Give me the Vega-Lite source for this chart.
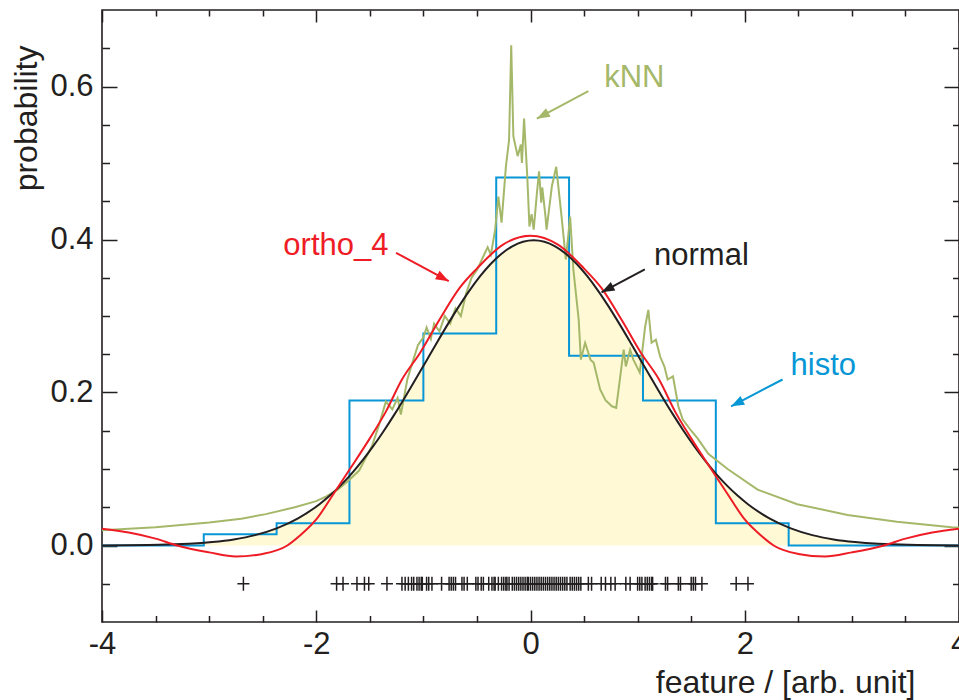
{
  "$schema": "https://vega.github.io/schema/vega-lite/v6.json",
  "width": 857,
  "height": 612,
  "autosize": {"type": "none"},
  "padding": {"left": 102, "top": 10, "right": 0, "bottom": 78},
  "background": "white",
  "config": {
    "view": {"stroke": "#231f20", "strokeWidth": 1.6},
    "font": "Liberation Sans",
    "axis": {
      "labelFont": "Liberation Sans",
      "labelFontSize": 31,
      "labelColor": "#231f20",
      "titleFont": "Liberation Sans",
      "titleFontSize": 32,
      "titleFontWeight": "normal",
      "titleColor": "#231f20",
      "tickColor": "#231f20",
      "tickWidth": 1.5,
      "domain": false,
      "grid": false,
      "labelFlush": false,
      "labelOverlap": false,
      "zindex": 1
    }
  },
  "datasets": {
    "normal": [
      {"x": -4.0, "p": 0.00012}, {"x": -3.47, "p": 0.00087}, {"x": -2.97, "p": 0.00443}, {"x": -2.77, "p": 0.00792},
      {"x": -2.57, "p": 0.01358}, {"x": -2.37, "p": 0.02239}, {"x": -2.17, "p": 0.03547}, {"x": -1.97, "p": 0.05399},
      {"x": -1.87, "p": 0.06562}, {"x": -1.77, "p": 0.07895}, {"x": -1.67, "p": 0.09405}, {"x": -1.57, "p": 0.11092},
      {"x": -1.47, "p": 0.12952}, {"x": -1.37, "p": 0.14973}, {"x": -1.27, "p": 0.17137}, {"x": -1.17, "p": 0.19419},
      {"x": -1.07, "p": 0.21785}, {"x": -0.97, "p": 0.24197}, {"x": -0.87, "p": 0.26609}, {"x": -0.77, "p": 0.28969},
      {"x": -0.67, "p": 0.31225}, {"x": -0.57, "p": 0.33322}, {"x": -0.47, "p": 0.35207}, {"x": -0.37, "p": 0.36827},
      {"x": -0.27, "p": 0.38139}, {"x": -0.17, "p": 0.39104}, {"x": -0.07, "p": 0.39695}, {"x": 0.03, "p": 0.39894},
      {"x": 0.13, "p": 0.39695}, {"x": 0.23, "p": 0.39104}, {"x": 0.33, "p": 0.38139}, {"x": 0.43, "p": 0.36827},
      {"x": 0.53, "p": 0.35207}, {"x": 0.63, "p": 0.33322}, {"x": 0.73, "p": 0.31225}, {"x": 0.83, "p": 0.28969},
      {"x": 0.93, "p": 0.26609}, {"x": 1.03, "p": 0.24197}, {"x": 1.13, "p": 0.21785}, {"x": 1.23, "p": 0.19419},
      {"x": 1.33, "p": 0.17137}, {"x": 1.43, "p": 0.14973}, {"x": 1.53, "p": 0.12952}, {"x": 1.63, "p": 0.11092},
      {"x": 1.73, "p": 0.09405}, {"x": 1.83, "p": 0.07895}, {"x": 1.93, "p": 0.06562}, {"x": 2.03, "p": 0.05399},
      {"x": 2.23, "p": 0.03547}, {"x": 2.43, "p": 0.02239}, {"x": 2.63, "p": 0.01358}, {"x": 2.83, "p": 0.00792},
      {"x": 3.03, "p": 0.00443}, {"x": 3.53, "p": 0.00087}, {"x": 4.0, "p": 0.00015}
    ],
    "ortho": [
      {"x": -4.0, "p": 0.022}, {"x": -3.75, "p": 0.017}, {"x": -3.5, "p": 0.009}, {"x": -3.3, "p": 0.0},
      {"x": -3.0, "p": -0.009}, {"x": -2.75, "p": -0.0145}, {"x": -2.5, "p": -0.011}, {"x": -2.27, "p": 0.0},
      {"x": -2.16, "p": 0.012}, {"x": -2.0, "p": 0.034}, {"x": -1.85, "p": 0.065}, {"x": -1.69, "p": 0.099},
      {"x": -1.5, "p": 0.14}, {"x": -1.35, "p": 0.175}, {"x": -1.2, "p": 0.217}, {"x": -1.03, "p": 0.252},
      {"x": -0.85, "p": 0.295}, {"x": -0.66, "p": 0.337}, {"x": -0.5, "p": 0.362}, {"x": -0.26, "p": 0.393},
      {"x": 0.0, "p": 0.405},
      {"x": 0.26, "p": 0.393}, {"x": 0.5, "p": 0.362}, {"x": 0.66, "p": 0.337}, {"x": 0.85, "p": 0.295},
      {"x": 1.03, "p": 0.252}, {"x": 1.2, "p": 0.217}, {"x": 1.35, "p": 0.175}, {"x": 1.5, "p": 0.14},
      {"x": 1.69, "p": 0.099}, {"x": 1.85, "p": 0.065}, {"x": 2.0, "p": 0.034}, {"x": 2.16, "p": 0.012},
      {"x": 2.27, "p": 0.0}, {"x": 2.5, "p": -0.011}, {"x": 2.75, "p": -0.0145}, {"x": 3.0, "p": -0.009},
      {"x": 3.3, "p": 0.0}, {"x": 3.5, "p": 0.009}, {"x": 3.75, "p": 0.017}, {"x": 4.0, "p": 0.022}
    ],
    "hist": [
      {"x": -4.0, "p": 0.0}, {"x": -3.05, "p": 0.0146}, {"x": -2.37, "p": 0.0292}, {"x": -1.69, "p": 0.1895},
      {"x": -1.0, "p": 0.277}, {"x": -0.32, "p": 0.481}, {"x": 0.36, "p": 0.248}, {"x": 1.05, "p": 0.1895},
      {"x": 1.73, "p": 0.0292}, {"x": 2.41, "p": 0.0}, {"x": 4.0, "p": 0.0}
    ],
    "knn": [
      {"x": -4.0, "p": 0.020}, {"x": -3.5, "p": 0.024}, {"x": -3.0, "p": 0.030}, {"x": -2.7, "p": 0.035},
      {"x": -2.47, "p": 0.041}, {"x": -2.2, "p": 0.050}, {"x": -2.0, "p": 0.058}, {"x": -1.91, "p": 0.064},
      {"x": -1.8, "p": 0.073}, {"x": -1.69, "p": 0.086}, {"x": -1.6, "p": 0.098}, {"x": -1.48, "p": 0.13},
      {"x": -1.42, "p": 0.155}, {"x": -1.35, "p": 0.188}, {"x": -1.29, "p": 0.178}, {"x": -1.24, "p": 0.193},
      {"x": -1.21, "p": 0.171}, {"x": -1.15, "p": 0.217}, {"x": -1.1, "p": 0.24}, {"x": -1.05, "p": 0.262},
      {"x": -1.0, "p": 0.272}, {"x": -0.97, "p": 0.285}, {"x": -0.93, "p": 0.27}, {"x": -0.9, "p": 0.29},
      {"x": -0.85, "p": 0.28}, {"x": -0.8, "p": 0.3}, {"x": -0.75, "p": 0.29}, {"x": -0.7, "p": 0.31},
      {"x": -0.65, "p": 0.3}, {"x": -0.6, "p": 0.33}, {"x": -0.55, "p": 0.35}, {"x": -0.5, "p": 0.36},
      {"x": -0.45, "p": 0.375}, {"x": -0.4, "p": 0.39}, {"x": -0.37, "p": 0.38}, {"x": -0.33, "p": 0.413},
      {"x": -0.3, "p": 0.456}, {"x": -0.27, "p": 0.422}, {"x": -0.23, "p": 0.495}, {"x": -0.2, "p": 0.53},
      {"x": -0.18, "p": 0.654}, {"x": -0.16, "p": 0.535}, {"x": -0.12, "p": 0.509}, {"x": -0.09, "p": 0.524},
      {"x": -0.08, "p": 0.5}, {"x": -0.06, "p": 0.558}, {"x": -0.03, "p": 0.482}, {"x": -0.01, "p": 0.417},
      {"x": 0.01, "p": 0.433}, {"x": 0.03, "p": 0.413}, {"x": 0.06, "p": 0.461}, {"x": 0.08, "p": 0.489},
      {"x": 0.1, "p": 0.448}, {"x": 0.11, "p": 0.468}, {"x": 0.14, "p": 0.43}, {"x": 0.15, "p": 0.413},
      {"x": 0.2, "p": 0.47}, {"x": 0.24, "p": 0.495}, {"x": 0.27, "p": 0.456}, {"x": 0.29, "p": 0.43},
      {"x": 0.33, "p": 0.374}, {"x": 0.37, "p": 0.43}, {"x": 0.4, "p": 0.361}, {"x": 0.45, "p": 0.295},
      {"x": 0.47, "p": 0.243}, {"x": 0.51, "p": 0.265}, {"x": 0.56, "p": 0.243}, {"x": 0.59, "p": 0.239},
      {"x": 0.65, "p": 0.204}, {"x": 0.7, "p": 0.19}, {"x": 0.76, "p": 0.182}, {"x": 0.8, "p": 0.18},
      {"x": 0.87, "p": 0.256}, {"x": 0.89, "p": 0.234}, {"x": 0.93, "p": 0.256}, {"x": 0.96, "p": 0.243},
      {"x": 1.02, "p": 0.226}, {"x": 1.07, "p": 0.286}, {"x": 1.1, "p": 0.308}, {"x": 1.13, "p": 0.265},
      {"x": 1.17, "p": 0.269}, {"x": 1.21, "p": 0.247}, {"x": 1.25, "p": 0.234}, {"x": 1.28, "p": 0.217},
      {"x": 1.33, "p": 0.221}, {"x": 1.38, "p": 0.182}, {"x": 1.42, "p": 0.165}, {"x": 1.5, "p": 0.15},
      {"x": 1.56, "p": 0.14}, {"x": 1.66, "p": 0.12}, {"x": 1.84, "p": 0.1}, {"x": 2.12, "p": 0.073},
      {"x": 2.49, "p": 0.054}, {"x": 2.96, "p": 0.04}, {"x": 3.42, "p": 0.031}, {"x": 3.93, "p": 0.024},
      {"x": 4.0, "p": 0.0235}
    ],
    "rug": [
      {"x": -2.68}, {"x": -1.81}, {"x": -1.75},
      {"x": -1.62}, {"x": -1.55}, {"x": -1.51}, {"x": -1.34}, {"x": -1.2}, {"x": -1.17}, {"x": -1.14}, {"x": -1.11}, {"x": -1.09}, {"x": -1.06}, {"x": -1.04}, {"x": -1.02}, {"x": -1.01},
      {"x": -0.97}, {"x": -0.95}, {"x": -0.92}, {"x": -0.83}, {"x": -0.76}, {"x": -0.74}, {"x": -0.72}, {"x": -0.7}, {"x": -0.64}, {"x": -0.62}, {"x": -0.59}, {"x": -0.51}, {"x": -0.49}, {"x": -0.46}, {"x": -0.44}, {"x": -0.39}, {"x": -0.36}, {"x": -0.34}, {"x": -0.33},
      {"x": -0.3}, {"x": -0.27}, {"x": -0.25}, {"x": -0.23}, {"x": -0.22}, {"x": -0.2}, {"x": -0.17}, {"x": -0.15}, {"x": -0.13}, {"x": -0.11}, {"x": -0.09}, {"x": -0.07}, {"x": -0.05}, {"x": -0.03}, {"x": -0.02}, {"x": 0.0}, {"x": 0.02}, {"x": 0.04}, {"x": 0.06}, {"x": 0.08}, {"x": 0.1}, {"x": 0.12}, {"x": 0.14}, {"x": 0.16}, {"x": 0.18}, {"x": 0.2}, {"x": 0.22}, {"x": 0.24}, {"x": 0.26}, {"x": 0.28}, {"x": 0.3}, {"x": 0.32}, {"x": 0.34},
      {"x": 0.37}, {"x": 0.39}, {"x": 0.41}, {"x": 0.43}, {"x": 0.45}, {"x": 0.47}, {"x": 0.54}, {"x": 0.57}, {"x": 0.66}, {"x": 0.7}, {"x": 0.75}, {"x": 0.79}, {"x": 0.89}, {"x": 0.93}, {"x": 1.0}, {"x": 1.02}, {"x": 1.04},
      {"x": 1.07}, {"x": 1.09}, {"x": 1.11}, {"x": 1.13}, {"x": 1.14}, {"x": 1.26}, {"x": 1.28}, {"x": 1.38}, {"x": 1.4}, {"x": 1.5}, {"x": 1.52}, {"x": 1.54}, {"x": 1.6},
      {"x": 1.92}, {"x": 2.03}
    ],
    "notes": [
      {"label": "kNN", "lx": 0.688, "ly": 0.6, "tx": 0.54, "ty": 0.594, "hx": 0.059, "hy": 0.558},
      {"label": "ortho_4", "lx": -2.307, "ly": 0.38, "tx": -1.255, "ty": 0.3826, "hx": -0.763, "hy": 0.3455},
      {"label": "normal", "lx": 1.153, "ly": 0.367, "tx": 1.067, "ty": 0.361, "hx": 0.663, "hy": 0.331},
      {"label": "histo", "lx": 2.428, "ly": 0.2235, "tx": 2.353, "ty": 0.217, "hx": 1.873, "hy": 0.182}
    ]
  },
  "layer": [
    {
      "data": {"name": "normal"},
      "mark": {"type": "area", "color": "#fff9d6", "interpolate": "monotone"},
      "encoding": {
        "x": {"field": "x", "type": "quantitative",
          "scale": {"domain": [-4, 4], "nice": false, "zero": false},
          "axis": {"orient": "bottom", "values": [-4, -2, 0, 2, 4], "labelExpr": "datum.value < 0 ? '-' + abs(datum.value) : '' + datum.value",
            "tickSize": -12, "labelPadding": 19, "title": "feature / [arb. unit]", "titleX": 813, "titleY": 70, "titleAlign": "right", "titleBaseline": "alphabetic"}},
        "y": {"field": "p", "type": "quantitative",
          "scale": {"domain": [-0.1, 0.7], "nice": false, "zero": false},
          "axis": {"orient": "left", "values": [0, 0.2, 0.4, 0.6], "format": ".1f", "tickSize": -15, "labelPadding": 24,
            "title": "probability", "titleAngle": -90, "titleX": -66, "titleY": 35, "titleAlign": "right", "titleBaseline": "alphabetic"}},
        "y2": {"datum": 0}
      }
    },
    {
      "data": {"name": "hist"},
      "mark": {"type": "line", "color": "#0796d6", "strokeWidth": 2, "interpolate": "step-after"},
      "encoding": {
        "x": {"field": "x", "type": "quantitative", "axis": {"orient": "bottom", "values": [-3.5, -3, -2.5, -1.5, -1, -0.5, 0.5, 1, 1.5, 2.5, 3, 3.5], "tickSize": -6.5, "labels": false, "title": null}},
        "y": {"field": "p", "type": "quantitative", "axis": {"orient": "left", "values": [-0.05, 0.05, 0.1, 0.15, 0.25, 0.3, 0.35, 0.45, 0.5, 0.55, 0.65], "tickSize": -7.5, "labels": false, "title": null}}
      }
    },
    {
      "data": {"name": "knn"},
      "mark": {"type": "line", "color": "#a5b86a", "strokeWidth": 2},
      "encoding": {
        "x": {"field": "x", "type": "quantitative", "axis": {"orient": "top", "values": [-3.5, -3, -2.5, -1.5, -1, -0.5, 0.5, 1, 1.5, 2.5, 3, 3.5], "tickSize": -6, "labels": false, "title": null}},
        "y": {"field": "p", "type": "quantitative", "axis": {"orient": "right", "values": [-0.05, 0.05, 0.1, 0.15, 0.25, 0.3, 0.35, 0.45, 0.5, 0.55, 0.65], "tickSize": -6.5, "labels": false, "title": null}}
      }
    },
    {
      "data": {"name": "normal"},
      "mark": {"type": "line", "color": "#231f20", "strokeWidth": 2, "interpolate": "monotone"},
      "encoding": {
        "x": {"field": "x", "type": "quantitative", "axis": null},
        "y": {"field": "p", "type": "quantitative", "axis": null}
      }
    },
    {
      "data": {"name": "ortho"},
      "mark": {"type": "line", "color": "#ee1c25", "strokeWidth": 2, "interpolate": "monotone"},
      "encoding": {
        "x": {"field": "x", "type": "quantitative", "axis": {"orient": "top", "values": [-4, -2, 0, 2, 4], "tickSize": -12, "labels": false, "title": null}},
        "y": {"field": "p", "type": "quantitative", "axis": {"orient": "right", "values": [0, 0.2, 0.4, 0.6], "tickSize": -15, "labels": false, "title": null}}
      }
    },
    {
      "data": {"name": "rug"},
      "mark": {"type": "point", "shape": "M-1,0H1M0,-1.15V1.15", "size": 144, "filled": false, "color": "#231f20", "strokeWidth": 1.5, "opacity": 1},
      "encoding": {
        "x": {"field": "x", "type": "quantitative", "axis": null},
        "y": {"datum": -0.05, "type": "quantitative", "axis": null}
      }
    },
    {
      "data": {"name": "notes"},
      "mark": {"type": "rule", "strokeWidth": 2},
      "encoding": {
        "x": {"field": "tx", "type": "quantitative", "axis": null},
        "y": {"field": "ty", "type": "quantitative", "axis": null},
        "x2": {"field": "hx"},
        "y2": {"field": "hy"},
        "color": {"field": "label", "type": "nominal", "scale": {"domain": ["kNN", "ortho_4", "normal", "histo"], "range": ["#a5b86a", "#ee1c25", "#231f20", "#0796d6"]}, "legend": null}
      }
    },
    {
      "data": {"name": "notes"},
      "transform": [{"filter": "datum.label === 'kNN'"}],
      "mark": {"type": "point", "shape": "M0,0L-2,-0.75L-2,0.75Z", "size": 169, "filled": true, "color": "#a5b86a", "opacity": 1, "angle": 151.9},
      "encoding": {"x": {"field": "hx", "type": "quantitative", "axis": null}, "y": {"field": "hy", "type": "quantitative", "axis": null}}
    },
    {
      "data": {"name": "notes"},
      "transform": [{"filter": "datum.label === 'ortho_4'"}],
      "mark": {"type": "point", "shape": "M0,0L-2,-0.75L-2,0.75Z", "size": 169, "filled": true, "color": "#ee1c25", "opacity": 1, "angle": 28.1},
      "encoding": {"x": {"field": "hx", "type": "quantitative", "axis": null}, "y": {"field": "hy", "type": "quantitative", "axis": null}}
    },
    {
      "data": {"name": "notes"},
      "transform": [{"filter": "datum.label === 'normal'"}],
      "mark": {"type": "point", "shape": "M0,0L-2,-0.75L-2,0.75Z", "size": 169, "filled": true, "color": "#231f20", "opacity": 1, "angle": 152.4},
      "encoding": {"x": {"field": "hx", "type": "quantitative", "axis": null}, "y": {"field": "hy", "type": "quantitative", "axis": null}}
    },
    {
      "data": {"name": "notes"},
      "transform": [{"filter": "datum.label === 'histo'"}],
      "mark": {"type": "point", "shape": "M0,0L-2,-0.75L-2,0.75Z", "size": 169, "filled": true, "color": "#0796d6", "opacity": 1, "angle": 152.7},
      "encoding": {"x": {"field": "hx", "type": "quantitative", "axis": null}, "y": {"field": "hy", "type": "quantitative", "axis": null}}
    },
    {
      "data": {"name": "notes"},
      "mark": {"type": "text", "align": "left", "baseline": "alphabetic", "fontSize": 31, "font": "Liberation Sans"},
      "encoding": {
        "x": {"field": "lx", "type": "quantitative", "axis": null},
        "y": {"field": "ly", "type": "quantitative", "axis": null},
        "text": {"field": "label"},
        "color": {"field": "label", "type": "nominal", "scale": {"domain": ["kNN", "ortho_4", "normal", "histo"], "range": ["#a5b86a", "#ee1c25", "#231f20", "#0796d6"]}, "legend": null}
      }
    }
  ],
  "resolve": {"axis": {"x": "independent", "y": "independent"}}
}
